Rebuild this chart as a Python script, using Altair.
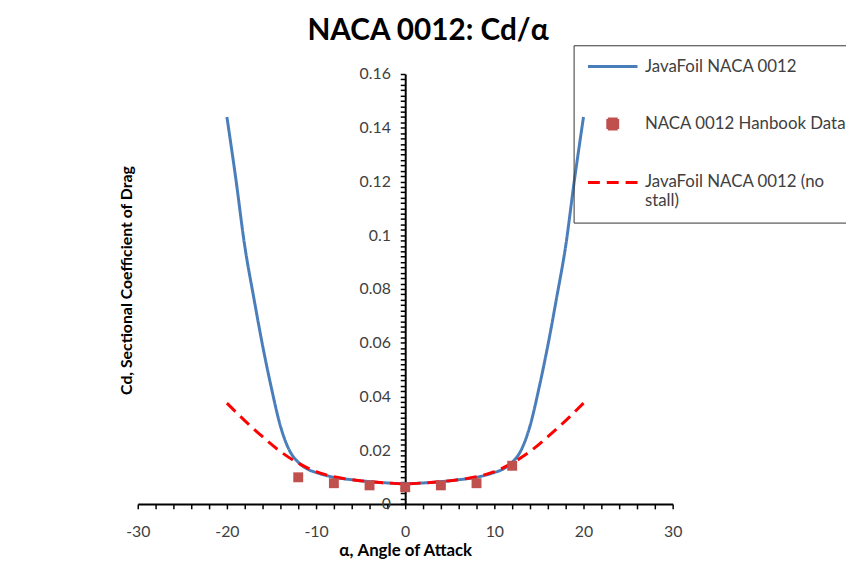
import altair as alt
import pandas as pd

# ---- data ----
alpha_javafoil = list(range(-20, 21))
cd_javafoil = [0.144, 0.121, 0.096, 0.077, 0.059, 0.043, 0.029, 0.020, 0.0155, 0.013,
               0.0117, 0.0107, 0.0099, 0.0094, 0.0090, 0.0086, 0.0083, 0.0080, 0.0078, 0.0076,
               0.0075,
               0.0076, 0.0078, 0.0080, 0.0083, 0.0086, 0.0090, 0.0094, 0.0099, 0.0107, 0.0117,
               0.013, 0.0155, 0.020, 0.029, 0.043, 0.059, 0.077, 0.096, 0.121, 0.144]

alpha_nostall = list(range(-20, 21, 2))
cd_nostall = [0.0375, 0.0310, 0.0250, 0.0195, 0.0152, 0.0120, 0.0101, 0.0090, 0.0083, 0.0078,
              0.0075,
              0.0078, 0.0083, 0.0090, 0.0101, 0.0120, 0.0152, 0.0195, 0.0250, 0.0310, 0.0375]

alpha_handbook = [-12, -8, -4, 0, 4, 8, 12]
cd_handbook = [0.0099, 0.0077, 0.0069, 0.0062, 0.0069, 0.0077, 0.0142]

series_names = ["JavaFoil NACA 0012", "NACA 0012 Hanbook Data", "JavaFoil NACA 0012 (no stall)"]
series_colors = ["#4A7EBB", "#C0504D", "#FF0000"]

x_ticks = list(range(-30, 31, 2))
y_ticks = [round(i * 0.002, 3) for i in range(0, 81)]

rows = []
for a, c in zip(alpha_javafoil, cd_javafoil):
    rows.append({"series": series_names[0], "alpha": a, "cd": c})
for a, c in zip(alpha_handbook, cd_handbook):
    rows.append({"series": series_names[1], "alpha": a, "cd": c})
for a, c in zip(alpha_nostall, cd_nostall):
    rows.append({"series": series_names[2], "alpha": a, "cd": c})
df = pd.DataFrame(rows)

FONT = "Lato"
TXT = "#404040"
LINE_SYMBOL = "M-5,0H5"

x_scale = alt.Scale(domain=[-30, 30], nice=False, zero=False)
y_scale = alt.Scale(domain=[0, 0.16], nice=False)

x_axis = alt.Axis(values=x_ticks,
                  labelExpr="datum.value % 10 == 0 ? replace(datum.label, '\u2212', '-') : ''",
                  title="α, Angle of Attack", grid=False, domainColor="black", domainWidth=2,
                  tickColor="black", tickWidth=1.5, tickSize=5, labelPadding=15,
                  labelFontSize=16, labelColor=TXT, labelFont=FONT,
                  titleFont=FONT, titleFontSize=17, titleFontWeight="bold", titleColor="black",
                  titlePadding=3, labelFlush=False)

y_axis_main = alt.Axis(values=y_ticks, orient="left",
                       labelExpr="round(datum.value*1000) % 20 == 0 ? format(datum.value, '~g') : ''",
                       title=None, grid=False, offset=-270, domainColor="black", domainWidth=2,
                       tickColor="black", tickWidth=1.5, tickSize=5, labelPadding=10,
                       labelFontSize=16, labelColor=TXT, labelFont=FONT, labelFlush=False)

y_axis_title = alt.Axis(title="Cd, Sectional Coefficient of Drag", orient="left", labels=False,
                        ticks=False, domain=False, grid=False, titleFont=FONT, titleFontSize=16,
                        titleFontWeight="bold", titleColor="black", titleX=-11, titleY=208,
                        titleAngle=-90, titleBaseline="middle", titleAlign="center")

color_scale = alt.Scale(domain=series_names, range=series_colors)
legend = alt.Legend(title=None, orient="none", legendX=440, legendY=-29,
                    labelExpr="datum.label == 'JavaFoil NACA 0012 (no stall)' ? ['JavaFoil NACA 0012 (no', 'stall)'] : datum.label",
                    labelFont=FONT, labelFontSize=17, labelColor=TXT, labelLimit=400,
                    strokeColor="#333333", padding=13, rowPadding=38, symbolStrokeWidth=3,
                    symbolOffset=18, labelOffset=24, symbolSize=100)

lines = alt.Chart(df).transform_filter(
    alt.FieldOneOfPredicate(field="series", oneOf=[series_names[0], series_names[2]])
).mark_line(strokeWidth=3, interpolate="monotone").encode(
    x=alt.X("alpha:Q", scale=x_scale, axis=x_axis),
    y=alt.Y("cd:Q", scale=y_scale, axis=y_axis_main),
    color=alt.Color("series:N", scale=color_scale, legend=legend, sort=series_names),
    strokeDash=alt.StrokeDash("series:N", scale=alt.Scale(domain=series_names,
                              range=[[1, 0], [1, 0], [12, 7]]), legend=legend, sort=series_names),
    detail="series:N",
)

points = alt.Chart(df).transform_filter(
    alt.FieldEqualPredicate(field="series", equal=series_names[1])
).mark_point(filled=True, opacity=1, size=100).encode(
    x=alt.X("alpha:Q", scale=x_scale, axis=x_axis),
    y=alt.Y("cd:Q", scale=y_scale, axis=y_axis_title),
    color=alt.Color("series:N", scale=color_scale, legend=legend, sort=series_names),
    shape=alt.Shape("series:N", scale=alt.Scale(domain=series_names,
                    range=[LINE_SYMBOL, "square", LINE_SYMBOL]), legend=legend, sort=series_names),
)

chart = alt.layer(lines, points).resolve_axis(y="independent").properties(
    width=540, height=434,
    autosize=alt.AutoSizeParams(type="none"),
    padding={"left": 131, "top": 64, "right": 175, "bottom": 55},
    title=alt.TitleParams("NACA 0012: Cd/α", font=FONT, fontSize=30, fontWeight="bold",
                          color="black", anchor="middle", dx=23, dy=29, offset=4,
                          baseline="alphabetic"),
    background="white",
).configure_view(stroke=None)

chart.save("out.html", embed_options={"renderer": "svg", "actions": False})
